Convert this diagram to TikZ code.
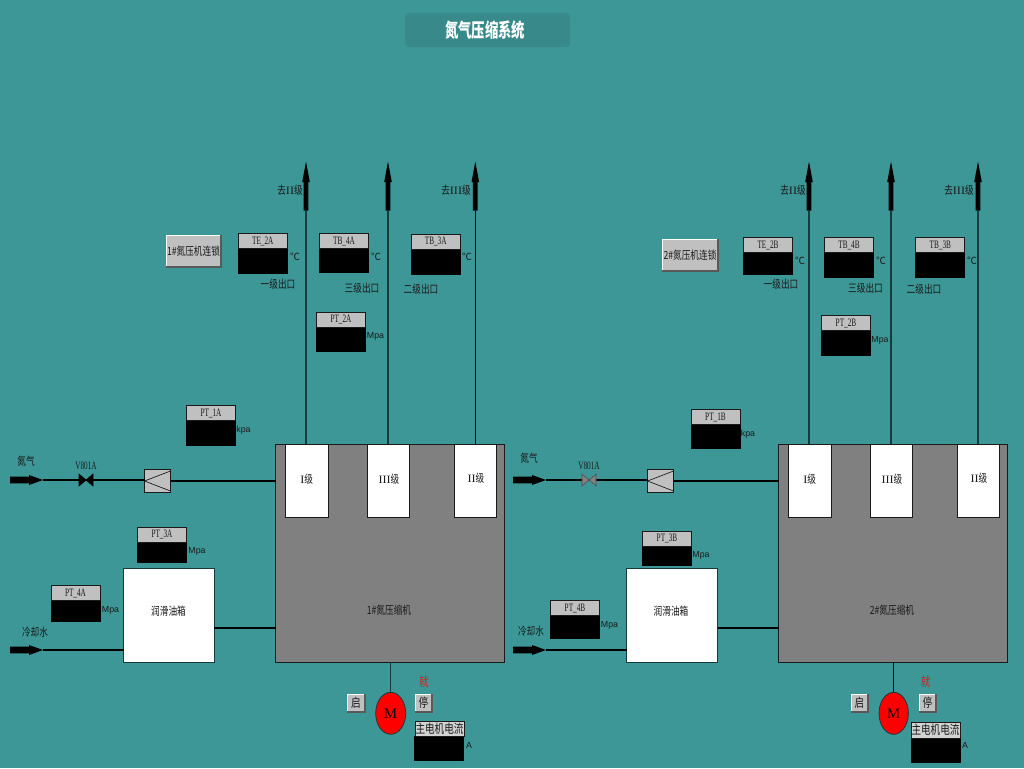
\documentclass[tikz,border=0pt]{standalone}
\usepackage{fontspec}
\usepackage{graphicx}
\setmainfont{Liberation Sans}
\newfontfamily\cjk{Noto Sans CJK SC}
\newfontfamily\ser{Liberation Serif}
\definecolor{bgc}{HTML}{3E9797}
\definecolor{titlec}{HTML}{388A8A}
\definecolor{panel}{HTML}{C0C0C0}
\definecolor{comp}{HTML}{808080}
\definecolor{ink}{HTML}{1A1A1A}
\definecolor{pipe}{HTML}{143C3C}
\definecolor{redt}{HTML}{D81C1C}
\newcommand\cn[1]{\scalebox{1}[1.3]{\fontsize{6.5}{7}\selectfont\cjk #1}}
\newcommand\cnb[1]{\scalebox{1}[1.3]{\fontsize{7.2}{8}\selectfont\cjk #1}}
\newcommand\sr[1]{\scalebox{1.4}[1]{\ser #1}}
\newcommand\lab[1]{\scalebox{.8}[1.25]{\fontsize{6.8}{7}\selectfont\ser #1}}
\newcommand\un[1]{{\fontsize{6.6}{7}\selectfont #1}}
\newcommand\ce{{\fontsize{7.4}{8}\selectfont\cjk ℃}}
% \bx{name}{x1}{y1}{x2}{y2}{style}{text}
\newcommand\bx[7]{%
  \pgfmathsetmacro\bxc{(#2+#4)/2}\pgfmathsetmacro\byc{(#3+#5)/2}%
  \pgfmathsetmacro\bxw{(#4-#2)*0.75}\pgfmathsetmacro\byh{(#5-#3)*0.75}%
  \node[boxn,#6,minimum width=\bxw pt,minimum height=\byh pt] (#1) at (\bxc,\byc) {#7};}
% \inst{id}{label}{lx}{ly}{bottom}{unit}{ux}{uy}
\newcommand\inst[8]{%
  \pgfmathsetmacro\ia{#3+49}\pgfmathsetmacro\ib{#4+15}%
  \pgfmathsetmacro\ic{#3-.5}\pgfmathsetmacro\id{#3+49.5}%
  \bx{#1v}{\ic}{\ib}{\id}{#5}{fill=black}{}
  \bx{#1l}{#3}{#4}{\ia}{\ib}{fill=panel,draw=ink,line width=.5pt}{\lab{#2}}
  \node[txt] (#1u) at (#7,#8) {#6};}
% \btn{name}{x1}{y1}{x2}{y2}{text}
\newcommand\btn[6]{%
  \bx{#1}{#2}{#3}{#4}{#5}{fill=panel}{#6}
  \draw[white,line width=.7pt] (#1.south west) -- (#1.north west) -- (#1.north east);
  \draw[gray!70!black,line width=.9pt] (#1.south west) -- (#1.south east) -- (#1.north east);}
% \uparr{name}{x}
\newcommand\uparr[2]{%
  \coordinate (#1) at (#2,210.6);
  \fill[black] (#1) ++(-2.4,0) -- ++(0,-28.6) -- ++(-1.4,0) -- ++(3.8,-20.5) -- ++(3.8,20.5) -- ++(-1.4,0) -- ++(0,28.6) -- cycle;}
% \rarr{name}{x}{y}
\newcommand\rarr[3]{%
  \coordinate (#1) at (#2+33,#3);
  \fill[black] (#1) ++(-33,-3.3) -- ++(19,0) -- ++(0,-1.7) -- ++(14,5) -- ++(-14,5) -- ++(0,-1.7) -- ++(-19,0) -- cycle;}
\newcommand\valve[3]{%
  \coordinate (#1) at (#2,480);
  \fill[#3,draw=#3!60!black,line width=.4pt] (#1) -- ++(-7,-6) -- ++(0,12) -- cycle;
  \fill[#3,draw=#3!60!black,line width=.4pt] (#1) -- ++(7,-6) -- ++(0,12) -- cycle;}
\newcommand\filter[3]{%
  \bx{#1}{#2}{469.5}{#3}{492}{fill=panel,draw=ink,line width=.5pt}{}
  \draw[ink,line width=.5pt] (#1.east |- 0,471) -- (#1.west |- 0,481) -- (#1.east |- 0,491);}
\tikzset{
  boxn/.style={rectangle,inner sep=0pt,outer sep=0pt,align=center,text=ink},
  txt/.style={inner sep=0pt,outer sep=0pt,text=ink,align=center},
  pipeline/.style={draw=black,line width=1pt},
  darkpipe/.style={draw=pipe,line width=1.1pt},
  stage/.style={fill=white,draw=ink,line width=.5pt},
  mainc/.style={fill=comp,draw=ink,line width=.6pt},
  tank/.style={fill=white,draw=pipe,line width=.5pt},
  motor/.style={ellipse,fill=red,draw=pipe,line width=.6pt,inner sep=0pt,outer sep=0pt}
}
\usetikzlibrary{shapes.geometric}
\begin{document}
\begin{tikzpicture}[x=.75pt,y=-.75pt]
\useasboundingbox (0,0) rectangle (1024,768);
\fill[bgc] (0,0) rectangle (1024,768);
\node[rectangle,rounded corners=3pt,fill=titlec,minimum width=123.75pt,minimum height=25.5pt,inner sep=0pt] (title) at (487.5,30) {};
\node[txt,text=white] (titlet) at (485,30.5)
  {\scalebox{1}[1.45]{\fontsize{10}{11}\selectfont\cjk\bfseries 氮气压缩系统}};

%% ---- Unit 1 ----
\bx{c1}{275.5}{444}{504.5}{662}{mainc}{}
\node[txt] (c1t) at (389,610) {\cn{1\#氮压缩机}};
\bx{s1a}{285.3}{444}{328}{517}{stage}{}
\bx{s1c}{367.7}{444}{409.5}{517}{stage}{}
\bx{s1b}{454.3}{444}{496.5}{517}{stage}{}
\node[txt] (s1at) at (306.7,479) {\cn{\sr{I}级}};
\node[txt] (s1ct) at (389,479) {\cn{\sr{III}级}};
\node[txt] (s1bt) at (476,478) {\cn{\sr{II}级}};
\uparr{u1a}{306}\uparr{u1c}{388}\uparr{u1b}{475.3}
\draw[darkpipe] (u1a) -- (u1a |- s1a.north);
\draw[darkpipe] (u1c) -- (u1c |- s1c.north);
\draw[pipeline] (u1b) -- (u1b |- s1b.north);
\node[txt] (go1a) at (290,190) {\cn{去\sr{II}级}};
\node[txt] (go1b) at (456,190) {\cn{去\sr{III}级}};
\btn{lock1}{166}{235}{221}{267}{\cn{1\#氮压机连锁}}
\inst{te2a}{TE\_2A}{238.3}{233.5}{274}{\ce}{295}{257}
\inst{tb4a}{TB\_4A}{319.5}{233.5}{273}{\ce}{376}{257}
\inst{tb3a}{TB\_3A}{411.2}{234}{275}{\ce}{467}{257}
\inst{pt2a}{PT\_2A}{316.5}{312}{352}{\un{Mpa}}{375.5}{336}
\inst{pt1a}{PT\_1A}{186.5}{405.5}{446}{\un{kpa}}{243.5}{430}
\inst{pt3a}{PT\_3A}{137.5}{527}{563}{\un{Mpa}}{197}{551}
\inst{pt4a}{PT\_4A}{51}{585.5}{622}{\un{Mpa}}{110.5}{610}
\node[txt] (o1a) at (278,284) {\cn{一级出口}};
\node[txt] (o1c) at (362,288) {\cn{三级出口}};
\node[txt] (o1b) at (421,289) {\cn{二级出口}};
\node[txt] (n1) at (26,461) {\cn{氮气}};
\node[txt] (v1t) at (86,466) {\lab{V801A}};
\rarr{src1}{10}{480}
\filter{f1}{144.5}{170.5}
\draw[pipeline] (src1) -- (f1.west |- src1);
\draw[pipeline] (f1.east |- 0,481) -- (c1.west |- 0,481);
\valve{v1}{86}{black}
\bx{t1}{123.5}{568.5}{214}{662}{tank}{}
\node[txt] (t1t) at (168.5,611) {\cn{润滑油箱}};
\node[txt] (w1) at (35,632) {\cn{冷却水}};
\rarr{wat1}{10}{650}
\draw[pipeline] (wat1) -- (t1.west |- wat1);
\draw[pipeline] (t1.east |- 0,628) -- (c1.west |- 0,628);
\node[motor,minimum width=22.5pt,minimum height=31.5pt] (m1) at (390.7,713.3) {\fontsize{11}{12}\selectfont\ser M};
\draw[darkpipe] (m1.north) -- (m1.north |- c1.south);
\btn{st1}{347}{694}{365}{712}{\cnb{启}}
\btn{sp1}{415}{694}{432}{712}{\cnb{停}}
\node[txt,text=redt] (r1) at (424,682) {\cnb{就}};
\bx{i1v}{414}{736}{464}{761}{fill=black}{}
\bx{i1l}{415}{721}{464}{736}{fill=panel!70!white,draw=ink,line width=.5pt}{\cnb{主电机电流}}
\node[txt] (i1u) at (469,745) {\un{A}};

%% ---- Unit 2 ----
\bx{c2}{778.5}{444}{1007.5}{662}{mainc}{}
\node[txt] (c2t) at (892,610) {\cn{2\#氮压缩机}};
\bx{s2a}{788.3}{444}{831}{517}{stage}{}
\bx{s2c}{870.7}{444}{912.5}{517}{stage}{}
\bx{s2b}{957.3}{444}{999.5}{517}{stage}{}
\node[txt] (s2at) at (809.7,479) {\cn{\sr{I}级}};
\node[txt] (s2ct) at (892,479) {\cn{\sr{III}级}};
\node[txt] (s2bt) at (979,478) {\cn{\sr{II}级}};
\uparr{u2a}{809}\uparr{u2c}{891}\uparr{u2b}{978}
\draw[darkpipe] (u2a) -- (u2a |- s2a.north);
\draw[darkpipe] (u2c) -- (u2c |- s2c.north);
\draw[darkpipe] (u2b) -- (u2b |- s2b.north);
\node[txt] (go2a) at (793,190) {\cn{去\sr{II}级}};
\node[txt] (go2b) at (959,190) {\cn{去\sr{III}级}};
\btn{lock2}{662}{239}{718}{271}{\cn{2\#氮压机连锁}}
\inst{te2b}{TE\_2B}{743.5}{237.5}{275}{\ce}{800}{261}
\inst{tb4b}{TB\_4B}{824.5}{237.5}{278}{\ce}{881}{261}
\inst{tb3b}{TB\_3B}{915.8}{237.5}{278}{\ce}{972}{261}
\inst{pt2b}{PT\_2B}{821.5}{315.5}{356}{\un{Mpa}}{880}{340}
\inst{pt1b}{PT\_1B}{691}{409.5}{449}{\un{kpa}}{748}{434}
\inst{pt3b}{PT\_3B}{642.5}{531}{566}{\un{Mpa}}{701}{555}
\inst{pt4b}{PT\_4B}{550.5}{600.5}{639}{\un{Mpa}}{609.5}{625}
\node[txt] (o2a) at (781,284) {\cn{一级出口}};
\node[txt] (o2c) at (865.5,288) {\cn{三级出口}};
\node[txt] (o2b) at (924,289) {\cn{二级出口}};
\node[txt] (n2) at (529,458) {\cn{氮气}};
\node[txt] (v2t) at (589,466) {\lab{V801A}};
\rarr{src2}{513}{480}
\filter{f2}{647.5}{673.5}
\draw[pipeline] (src2) -- (f2.west |- src2);
\draw[pipeline] (f2.east |- 0,481) -- (c2.west |- 0,481);
\valve{v2}{589}{comp}
\bx{t2}{626.5}{568.5}{717.5}{662}{tank}{}
\node[txt] (t2t) at (671,611) {\cn{润滑油箱}};
\node[txt] (w2) at (531,631) {\cn{冷却水}};
\rarr{wat2}{513}{650}
\draw[pipeline] (wat2) -- (t2.west |- wat2);
\draw[pipeline] (t2.east |- 0,628) -- (c2.west |- 0,628);
\node[motor,minimum width=22pt,minimum height=31.5pt] (m2) at (893.7,713.3) {\fontsize{11}{12}\selectfont\ser M};
\draw[pipeline] (m2.north) -- (m2.north |- c2.south);
\btn{st2}{851}{694}{868}{712}{\cnb{启}}
\btn{sp2}{919}{694}{936}{712}{\cnb{停}}
\node[txt,text=redt] (r2) at (925.7,682) {\cnb{就}};
\bx{i2v}{911}{738}{961}{763}{fill=black}{}
\bx{i2l}{911}{722}{960}{738}{fill=panel!70!white,draw=ink,line width=.5pt}{\cnb{主电机电流}}
\node[txt] (i2u) at (965,745) {\un{A}};
\end{tikzpicture}
\end{document}
